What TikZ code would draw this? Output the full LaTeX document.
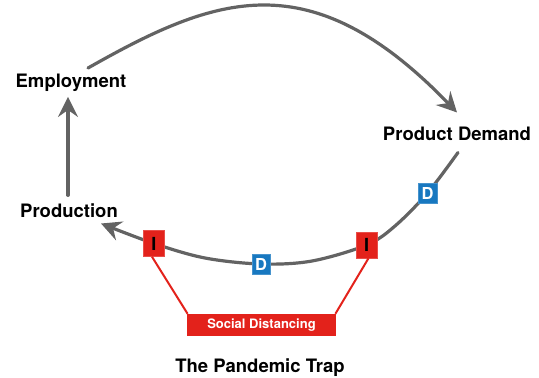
\documentclass[tikz,border=0pt]{standalone}
\usepackage{fontspec}
\setmainfont{TeX Gyre Heros}
\usetikzlibrary{arrows.meta}
\definecolor{pencil}{HTML}{636363}
\definecolor{sdred}{HTML}{E3221B}
\definecolor{dblue}{HTML}{1878C0}
\tikzset{
  lbl/.style={font=\fontsize{18.5}{20}\selectfont\bfseries, inner sep=0pt, text=black},
  arr/.style={draw=pencil, line width=3.2pt, line cap=round,
    -{Stealth[length=20pt, width=20pt, inset=7pt]}},
  ibox/.style={fill=sdred, draw=sdred!80!white, line width=0.5pt, minimum width=21pt, minimum height=26pt,
    inner sep=0pt, font=\fontsize{18}{18}\selectfont\bfseries, text=black},
  dbox/.style={fill=dblue, draw=dblue!80!white, line width=0.5pt, minimum width=18.5pt, minimum height=20pt,
    inner sep=0pt, font=\fontsize{16.5}{16.5}\selectfont\bfseries, text=white},
  redline/.style={draw=sdred, line width=2pt},
}
\begin{document}
\begin{tikzpicture}[x=1pt,y=-1pt]
\useasboundingbox (0,0) rectangle (539,378);
% labels
\node[lbl] (emp) at (71,83) {Employment};
\node[lbl] (pd) at (457,133.5) {Product Demand};
\node[lbl] (prod) at (69,210.5) {Production};
\node[lbl] (title) at (260,367.5) {The Pandemic Trap};
% box positions
\coordinate (Drc) at (427.5,193);
\coordinate (Irc) at (366.5,245);
\coordinate (Dbc) at (261,264);
\coordinate (Ilc) at (154,243.5);
\coordinate (m1) at (395,226);
\coordinate (m2) at (312,261);
\coordinate (m3) at (205,258);
% arcs
\draw[arr] ([xshift=-1pt,yshift=8pt]prod.north) -- ([xshift=-3pt,yshift=-5pt]emp.south);
\draw[arr] ([xshift=17pt,yshift=6pt]emp.north) .. controls (215,-4) and (310,-40) .. ([yshift=14pt]pd.north);
\draw[arr] plot[smooth, tension=0.55] coordinates {([xshift=1pt,yshift=-12pt]pd.south) (Drc) (m1) (Irc) (m2) (Dbc) (m3) (Ilc) ([xshift=-17pt,yshift=-13pt]prod.east)};
% boxes
\node[dbox] (Dr) at (Drc) {D};
\node[dbox] (Db) at (Dbc) {D};
\node[ibox] (Ir) at (Irc) {I};
\node[ibox] (Il) at (Ilc) {I};
\node[fill=sdred, minimum width=149pt, minimum height=22pt, inner sep=0pt,
  font=\fontsize{13}{13}\selectfont\bfseries, text=white] (sd) at (261.5,325) {Social Distancing};
\draw[redline] ([xshift=-2pt]Il.south) -- ([xshift=0.8pt]sd.north west);
\draw[redline] ([xshift=2pt]Ir.south) -- ([xshift=-0.8pt]sd.north east);
\end{tikzpicture}
\end{document}
